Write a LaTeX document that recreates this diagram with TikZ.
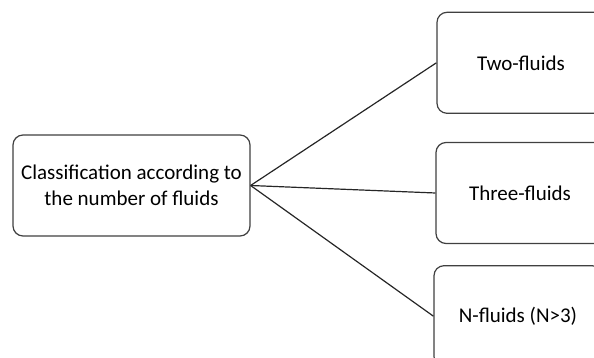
\documentclass[tikz,border=0pt]{standalone}
\usepackage{fontspec}
\setmainfont{Carlito}
\usetikzlibrary{positioning}
\tikzset{
  box/.style={draw=black!75, line width=1.2pt, rounded corners=10pt, fill=white,
    minimum height=101pt, align=center, inner sep=0pt, font=\fontsize{21}{26}\selectfont},
  leaf/.style={box, minimum width=168pt},
  link/.style={draw=black!85, line width=1.2pt}
}
\begin{document}
\begin{tikzpicture}[x=1pt,y=1pt]
\useasboundingbox (0,0) rectangle (594,358);
\clip (0,0) rectangle (594,358);
\node[box, minimum width=237pt](cls) at (131.5,172.5) {Classification according to\\the number of fluids};
\node[leaf](three) at (520,165) {Three-fluids};
\node[leaf, above=28pt of three, xshift=1pt](two) {Two-fluids};
\node[leaf, below=21pt of three, xshift=-2pt](nfl) {N-fluids (N>3)};
\draw[link] (cls.east) -- (two.west);
\draw[link] (cls.east) -- (three.west);
\draw[link] (cls.east) -- (nfl.west);
\end{tikzpicture}
\end{document}
